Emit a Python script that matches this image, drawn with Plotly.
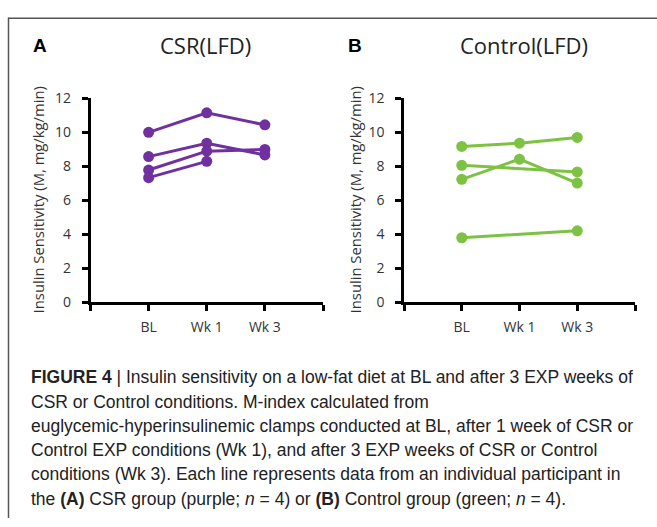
import plotly.graph_objects as go

W, H = 657, 527

categories = ["BL", "Wk 1", "Wk 3"]

# CSR group (purple) - each participant: (timepoints, values)
csr_times = [["BL", "Wk 1", "Wk 3"], ["BL", "Wk 1", "Wk 3"], ["BL", "Wk 1", "Wk 3"], ["BL", "Wk 1"]]
csr_values = [[10.0, 11.15, 10.44], [8.57, 9.36, 8.67], [7.78, 8.89, 8.99], [7.33, 8.29]]

# Control group (green)
ctl_times = [["BL", "Wk 1", "Wk 3"], ["BL", "Wk 3"], ["BL", "Wk 1", "Wk 3"], ["BL", "Wk 3"]]
ctl_values = [[9.17, 9.36, 9.70], [8.06, 7.67], [7.23, 8.42, 7.01], [3.79, 4.20]]

y_ticks = [0, 2, 4, 6, 8, 10, 12]

PURPLE = "#7030A0"
GREEN = "#7DC243"

def px_x(v):
    return v / W

def px_y(v):
    return 1 - v / H

fig = go.Figure()

def xpos(times):
    return [categories.index(t) + 1 for t in times]

for t, v in zip(csr_times, csr_values):
    fig.add_trace(go.Scatter(x=xpos(t), y=v, mode="lines+markers",
                             line=dict(color=PURPLE, width=3),
                             marker=dict(color=PURPLE, size=11),
                             xaxis="x", yaxis="y", showlegend=False))
for t, v in zip(ctl_times, ctl_values):
    fig.add_trace(go.Scatter(x=xpos(t), y=v, mode="lines+markers",
                             line=dict(color=GREEN, width=3),
                             marker=dict(color=GREEN, size=11),
                             xaxis="x2", yaxis="y2", showlegend=False))

tickfont = dict(family="Open Sans", size=14, color="#333333")
xtickvals = [0] + [i + 1 for i in range(len(categories))] + [len(categories) + 1]
xticktext = [""] + categories + [""]

xcommon = dict(range=[0, 4], tickvals=xtickvals, ticktext=xticktext,
               showgrid=False, zeroline=False, showline=True, linecolor="black",
               linewidth=2.5, ticks="outside", ticklen=6, tickwidth=2.5, tickcolor="black",
               tickfont=tickfont, fixedrange=True, ticklabelstandoff=4)
ycommon = dict(range=[0, 12], tickvals=y_ticks, showgrid=False, zeroline=False,
               showline=True, linecolor="black", linewidth=2.5, ticks="outside",
               ticklen=6, tickwidth=2.5, tickcolor="black", tickfont=tickfont,
               fixedrange=True, ticklabelstandoff=8)

ydom = [px_y(303), px_y(91.7)]
fig.update_layout(
    width=W, height=H, margin=dict(l=0, r=0, t=0, b=0),
    paper_bgcolor="white", plot_bgcolor="white",
    xaxis=dict(domain=[px_x(90.5), px_x(323)], anchor="y", **xcommon),
    yaxis=dict(domain=ydom, anchor="x", **ycommon),
    xaxis2=dict(domain=[px_x(404), px_x(635)], anchor="y2", **xcommon),
    yaxis2=dict(domain=ydom, anchor="x2", **ycommon),
)

ann = []
title_font = dict(family="Open Sans", size=22, color="#222222")
ann.append(dict(x=px_x(205), y=px_y(36), xref="paper", yref="paper", text="CSR(LFD)",
                showarrow=False, font=title_font, xanchor="center", yanchor="middle"))
ann.append(dict(x=px_x(524), y=px_y(36), xref="paper", yref="paper", text="Control(LFD)",
                showarrow=False, font=title_font, xanchor="center", yanchor="middle"))
letter_font = dict(family="Liberation Sans", size=19, color="black")
ann.append(dict(x=px_x(39.7), y=px_y(37), xref="paper", yref="paper", text="<b>A</b>",
                showarrow=False, font=letter_font, xanchor="center", yanchor="middle"))
ann.append(dict(x=px_x(355), y=px_y(37), xref="paper", yref="paper", text="<b>B</b>",
                showarrow=False, font=letter_font, xanchor="center", yanchor="middle"))
ytitle = "Insulin Sensitivity (M, mg/kg/min)"
yt_font = dict(family="Open Sans", size=14.8, color="#333333")
ann.append(dict(x=px_x(38), y=px_y(197.5), xref="paper", yref="paper", text=ytitle,
                textangle=-90, showarrow=False, font=yt_font, xanchor="center", yanchor="middle"))
ann.append(dict(x=px_x(355), y=px_y(197.5), xref="paper", yref="paper", text=ytitle,
                textangle=-90, showarrow=False, font=yt_font, xanchor="center", yanchor="middle"))

caption_lines = [
    "<b>FIGURE 4</b> | Insulin sensitivity on a low-fat diet at BL and after 3 EXP weeks of",
    "CSR or Control conditions. M-index calculated from",
    "euglycemic-hyperinsulinemic clamps conducted at BL, after 1 week of CSR or",
    "Control EXP conditions (Wk 1), and after 3 EXP weeks of CSR or Control",
    "conditions (Wk 3). Each line represents data from an individual participant in",
    "the <b>(A)</b> CSR group (purple; <i>n</i> = 4) or <b>(B)</b> Control group (green; <i>n</i> = 4).",
]
cap_font = dict(family="Liberation Sans", size=17.5, color="#222222")
for i, line in enumerate(caption_lines):
    ann.append(dict(x=px_x(29), y=px_y(381 + i * 25.2), xref="paper", yref="paper", text=line,
                    showarrow=False, font=cap_font, xanchor="left", yanchor="middle", align="left"))

fig.update_layout(annotations=ann)

fig.update_layout(shapes=[
    dict(type="line", xref="paper", yref="paper", x0=px_x(8), x1=1, y0=px_y(8.5), y1=px_y(8.5),
         line=dict(color="#555555", width=1.5)),
    dict(type="line", xref="paper", yref="paper", x0=px_x(8.5), x1=px_x(8.5), y0=px_y(8), y1=0,
         line=dict(color="#555555", width=1.5)),
])

fig.write_html("out.html")
